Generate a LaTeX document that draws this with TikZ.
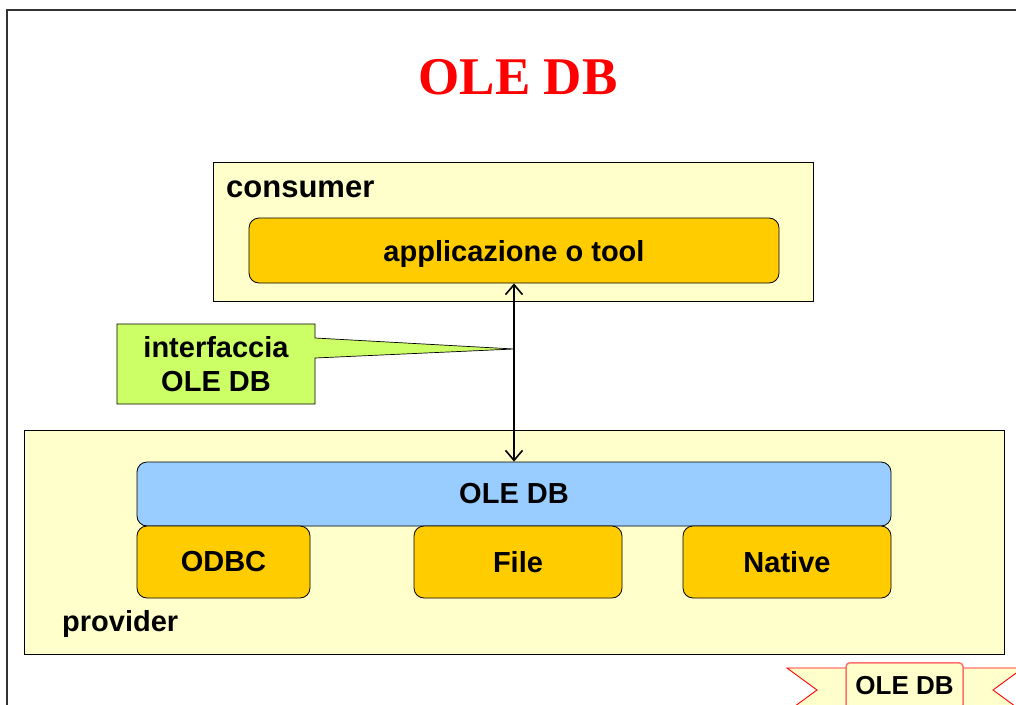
\documentclass[tikz,border=0pt]{standalone}
\usepackage{fontspec}
\setmainfont{Liberation Sans}
\newfontfamily\titlefont{Liberation Serif}
\usetikzlibrary{arrows.meta}

\definecolor{paleyellow}{HTML}{FFFFCC}
\definecolor{amber}{HTML}{FFCC00}
\definecolor{skyblue}{HTML}{99CCFF}
\definecolor{limegreen}{HTML}{CCFF66}
\definecolor{tagred}{HTML}{FF6F6F}

\begin{document}
\begin{tikzpicture}[x=1pt,y=-1pt,
  panel/.style={draw=black, line width=0.8pt, fill=paleyellow, rectangle, inner sep=0pt},
  block/.style={draw=black, line width=0.8pt, rounded corners=10pt, inner sep=0pt,
                font=\bfseries\fontsize{29}{34}\selectfont},
  caption/.style={font=\bfseries\fontsize{29}{34}\selectfont, inner sep=0pt},
  link/.style={line width=1.6pt, {Straight Barb[length=10pt,width=17pt]}-{Straight Barb[length=10pt,width=17pt]}},
  bubble/.style={draw=black, line width=0.7pt, fill=limegreen},
  tail/.style={draw=red, line width=0.9pt, fill=paleyellow}
]
\useasboundingbox (0,0) rectangle (1016,704);

% slide frame
\draw[line width=2pt, draw=black!80] (7,720) -- (7,10) -- (1030,10);

% title
\node[font=\titlefont\bfseries\fontsize{53}{60}\selectfont, text=red, anchor=base, inner sep=0pt]
  (title) at (518,94) {OLE DB};

% consumer side
\node[panel, minimum width=600pt, minimum height=139pt] (consumer) at (513,231.5) {};
\node[caption, font=\bfseries\fontsize{31}{36}\selectfont, anchor=base west] (consumerlabel) at (226,197) {consumer};
\node[block, fill=amber, minimum width=530pt, minimum height=65pt] (app) at (514,250.5)
  {\smash{\raisebox{-11pt}{applicazione o tool}}};

% provider side
\node[panel, minimum width=980pt, minimum height=224pt] (provider) at (514,542) {};
\node[caption, anchor=base west] (providerlabel) at (62,631) {provider};
\node[block, fill=skyblue, minimum width=754pt, minimum height=64pt] (oledb) at (514,494) {OLE DB};
\node[block, fill=amber, minimum width=173pt, minimum height=72pt] (odbc) at (223.5,562) {ODBC};
\node[block, fill=amber, minimum width=208pt, minimum height=72pt] (file) at (518,562) {File};
\node[block, fill=amber, minimum width=208pt, minimum height=72pt] (native) at (787,562) {Native};

% interface callout
\coordinate (tip) at (514,349);
\path[bubble] (117,324) -- (315,324) -- (315,338) -- (tip) -- (315,358) -- (315,404) -- (117,404) -- cycle;
\node[caption, align=center] (interface) at (216,364) {interfaccia\\OLE DB};

% link between consumer and provider
\draw[link] (app.south) -- (oledb.north);

% corner tag
\path[tail] (846,668) -- (787,668) -- (817,690) -- (787,712) -- (846,712);
\path[tail] (963,668) -- (1023,668) -- (993,690) -- (1023,712) -- (963,712);
\node[draw=tagred, line width=1.5pt, fill=paleyellow, rounded corners=4pt, anchor=north,
      minimum width=117pt, minimum height=46pt, inner sep=0pt,
      font=\bfseries\fontsize{26}{30}\selectfont] (tag) at (904.5,662) {OLE DB};
\end{tikzpicture}
\end{document}
